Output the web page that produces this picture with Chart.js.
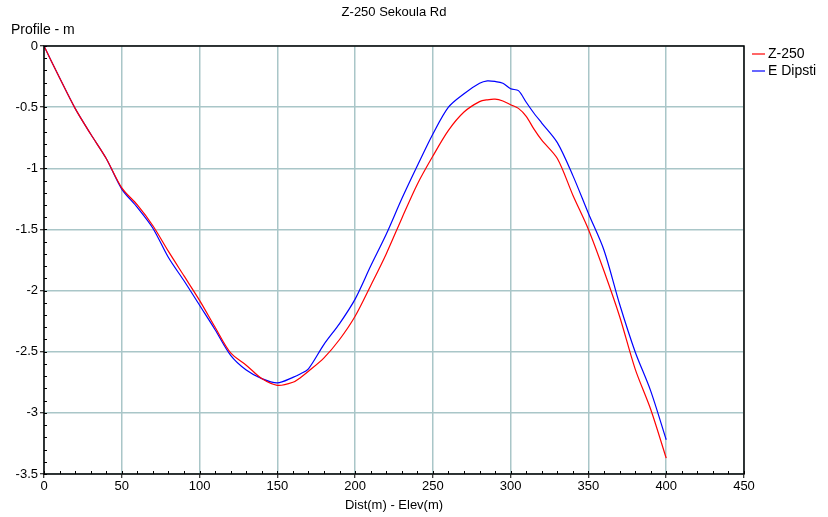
<!DOCTYPE html>
<html>
<head>
<meta charset="utf-8">
<script src="https://cdn.jsdelivr.net/npm/chart.js@4"></script>
<style>
  html, body { margin: 0; padding: 0; background: #fff; }
  #wrap { width: 828px; height: 517px; }
</style>
</head>
<body>
<div id="wrap"><canvas id="profileChart"></canvas></div>
<script>
// profile data
const distances = [0, 10, 20, 30, 40, 50, 60, 70, 80, 90, 100, 110, 120, 130, 140, 150, 160, 165, 170, 180, 190, 200,
    210, 220, 230, 240, 250, 260, 270, 280, 285, 290, 295, 300, 305, 310, 315, 320, 330, 340, 350, 360, 370, 380, 390, 400]
const z250 = [0, -0.26, -0.51, -0.72, -0.92, -1.16, -1.3, -1.47, -1.68, -1.88, -2.08, -2.3, -2.51, -2.61, -2.72, -2.775, -2.75, -2.71, -2.66, -2.55, -2.4, -2.21,
    -1.96, -1.7, -1.41, -1.13, -0.9, -0.69, -0.54, -0.455, -0.44, -0.435, -0.45, -0.48, -0.51, -0.575, -0.68, -0.77, -0.92, -1.22, -1.5, -1.84, -2.21, -2.64, -2.97, -3.37]
const eDipsti = [0, -0.26, -0.51, -0.72, -0.92, -1.17, -1.32, -1.49, -1.73, -1.92, -2.12, -2.32, -2.53, -2.65, -2.72, -2.755, -2.71, -2.68, -2.64, -2.44, -2.27, -2.07,
    -1.8, -1.54, -1.25, -0.98, -0.72, -0.5, -0.39, -0.305, -0.285, -0.29, -0.305, -0.35, -0.365, -0.46, -0.55, -0.63, -0.79, -1.06, -1.37, -1.67, -2.11, -2.5, -2.82, -3.22]
const seriesNames = ["Z-250", "E Dipsti"]
const seriesColors = ["#ff0000", "#0000ff"]

const FAMILY = "'Liberation Sans', Arial, sans-serif"
const GRID = "#a9c6c8"

const pts = arr => distances.map((d, i) => ({ x: d, y: arr[i] }))

// frame, minor ticks, titles, legend
const decor = {
    id: "decor",
    afterDraw(chart) {
        const { ctx, chartArea: a, scales: { x, y } } = chart
        ctx.save()
        ctx.strokeStyle = "#000"
        ctx.lineWidth = 1
        ctx.beginPath()
        for (let v = 0; v <= 450; v += 10) {
            const px = Math.round(x.getPixelForValue(v)) + 0.5
            ctx.moveTo(px, a.bottom); ctx.lineTo(px, a.bottom - 3)
        }
        for (let k = 0; k <= 35; k++) {
            const py = Math.round(y.getPixelForValue(-k / 10)) + 0.5
            ctx.moveTo(a.left, py); ctx.lineTo(a.left + 3, py)
        }
        ctx.stroke()
        ctx.lineWidth = 1.5
        ctx.strokeRect(a.left, a.top, a.right - a.left, a.bottom - a.top)

        ctx.fillStyle = "#000"
        ctx.textBaseline = "middle"
        ctx.textAlign = "center"
        ctx.font = "13px " + FAMILY
        ctx.fillText("Z-250 Sekoula Rd", (a.left + a.right) / 2, 12)
        ctx.fillText("Dist(m) - Elev(m)", (a.left + a.right) / 2, 505)
        ctx.textAlign = "left"
        ctx.font = "14px " + FAMILY
        ctx.fillText("Profile - m", 11, 30)

        seriesNames.forEach((name, i) => {
            const ly = 54 + i * 17
            ctx.strokeStyle = seriesColors[i]
            ctx.lineWidth = 1.2
            ctx.beginPath(); ctx.moveTo(752, ly); ctx.lineTo(765, ly); ctx.stroke()
            ctx.fillText(name, 768, ly)
        })
        ctx.restore()
    }
}

new Chart(document.getElementById("profileChart"), {
    type: "scatter",
    data: {
        datasets: [
            { label: seriesNames[0], data: pts(z250), borderColor: seriesColors[0], showLine: true, borderWidth: 1.2, pointRadius: 0, tension: 0.3 },
            { label: seriesNames[1], data: pts(eDipsti), borderColor: seriesColors[1], showLine: true, borderWidth: 1.2, pointRadius: 0, tension: 0.3 }
        ]
    },
    options: {
        responsive: true,
        maintainAspectRatio: false,
        animation: false,
        layout: { padding: { top: 46, right: 84, left: 0, bottom: 0 } },
        plugins: { legend: { display: false }, title: { display: false }, tooltip: { enabled: false } },
        scales: {
            x: {
                type: "linear", min: 0, max: 450,
                ticks: { stepSize: 50, color: "#000", font: { family: FAMILY, size: 13 }, padding: 1, maxRotation: 0 },
                grid: { color: GRID, lineWidth: 1.5, tickColor: "#000", tickLength: 4, tickWidth: 1 },
                border: { display: false },
                afterFit: s => { s.height = 43 }
            },
            y: {
                min: -3.5, max: 0,
                ticks: { stepSize: 0.5, color: "#000", font: { family: FAMILY, size: 13 }, padding: 2,
                    callback: v => String(Math.round(v * 10) / 10) },
                grid: { color: GRID, lineWidth: 1.5, tickColor: "#000", tickLength: 4, tickWidth: 1 },
                border: { display: false },
                afterFit: s => { s.width = 44 }
            }
        }
    },
    plugins: [decor]
})
</script>
</body>
</html>
